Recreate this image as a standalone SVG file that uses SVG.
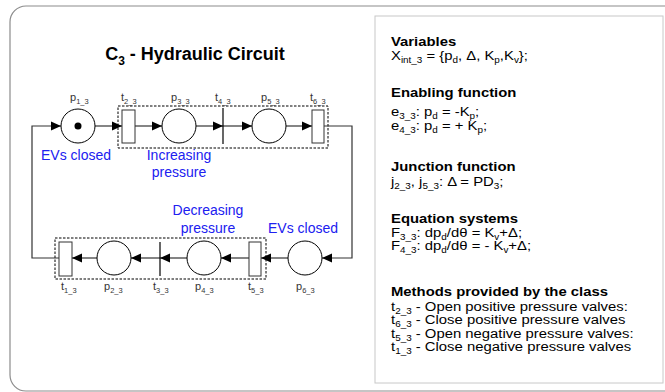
<svg xmlns="http://www.w3.org/2000/svg" width="665" height="392" viewBox="0 0 665 392">
<defs>
<marker id="ah" markerWidth="10" markerHeight="10" refX="10" refY="5" orient="auto" markerUnits="userSpaceOnUse"><path d="M0,0.5 L10,5 L0,9.5 Z" fill="#000"/></marker>
<style>
text{font-family:"Liberation Sans",Arial,Helvetica,sans-serif;fill:#000}
.lbl{font-size:11px;fill:#333}
.ls{font-size:7.5px}
.blue{font-size:14px;fill:#2020f0}
.rb{font-size:13.5px}
.rs{font-size:9px}
.h{font-weight:bold}
.place{fill:#fff;stroke:#000;stroke-width:1}
.trans{fill:#fff;stroke:#333;stroke-width:1}
.bar{stroke:#000;stroke-width:1.2}
.arc{fill:none;stroke:#333;stroke-width:1.2;marker-end:url(#ah)}
.dash{fill:none;stroke:#000;stroke-width:1;stroke-dasharray:2.5 1.5}
</style>
</defs>
<rect x="0" y="0" width="665" height="392" fill="#fff"/>
<rect x="10" y="6" width="690" height="385" rx="16" fill="#fff" stroke="#8c8c8c" stroke-width="1.2"/>
<rect x="375" y="16" width="288" height="367" fill="#fff" stroke="#c8c8c8" stroke-width="1"/>

<text x="195" y="60" text-anchor="middle" class="h" font-size="18">C<tspan font-size="12" dy="5">3</tspan><tspan dy="-5"> - Hydraulic Circuit</tspan></text>

<g id="boxes">
<rect class="dash" x="118" y="106" width="210" height="42"/>
<rect class="dash" x="55" y="238" width="211" height="41"/>
</g>

<g id="connectors">
<path class="arc" d="M59,258 H32 V126 H61"/>
<path class="arc" d="M95,126 H122"/>
<path class="arc" d="M135,126 H162"/>
<path class="arc" d="M196,126 H223"/>
<path class="arc" d="M223,126 H252"/>
<path class="arc" d="M286,126 H312"/>
<path class="arc" d="M324,126 H352 V258 H322"/>
<path class="arc" d="M288,258 H261"/>
<path class="arc" d="M249,258 H221"/>
<path class="arc" d="M187,258 H160"/>
<path class="arc" d="M160,258 H131"/>
<path class="arc" d="M97,258 H72"/>
</g>

<g id="p1_3"><circle class="place" cx="78" cy="126" r="17"/><circle cx="78" cy="126" r="3.5" fill="#000"/><text class="lbl" x="70" y="101">p<tspan class="ls" dy="3">1_3</tspan></text></g>
<g id="t2_3"><rect class="trans" x="122" y="110" width="13" height="33"/><text class="lbl" x="121" y="101">t<tspan class="ls" dy="3">2_3</tspan></text></g>
<g id="p3_3"><circle class="place" cx="179" cy="126" r="17"/><text class="lbl" x="171" y="101">p<tspan class="ls" dy="3">3_3</tspan></text></g>
<g id="t4_3"><line class="bar" x1="223" y1="108" x2="223" y2="144"/><text class="lbl" x="215" y="101">t<tspan class="ls" dy="3">4_3</tspan></text></g>
<g id="p5_3"><circle class="place" cx="269" cy="126" r="17"/><text class="lbl" x="261" y="101">p<tspan class="ls" dy="3">5_3</tspan></text></g>
<g id="t6_3"><rect class="trans" x="312" y="110" width="12" height="33"/><text class="lbl" x="310" y="101">t<tspan class="ls" dy="3">6_3</tspan></text></g>

<g id="t1_3"><rect class="trans" x="59" y="242" width="13" height="34"/><text class="lbl" x="61" y="290">t<tspan class="ls" dy="3">1_3</tspan></text></g>
<g id="p2_3"><circle class="place" cx="114" cy="258" r="17"/><text class="lbl" x="104" y="290">p<tspan class="ls" dy="3">2_3</tspan></text></g>
<g id="t3_3"><line class="bar" x1="160" y1="242" x2="160" y2="276"/><text class="lbl" x="153" y="290">t<tspan class="ls" dy="3">3_3</tspan></text></g>
<g id="p4_3"><circle class="place" cx="204" cy="258" r="17"/><text class="lbl" x="195" y="290">p<tspan class="ls" dy="3">4_3</tspan></text></g>
<g id="t5_3"><rect class="trans" x="249" y="242" width="12" height="34"/><text class="lbl" x="248" y="290">t<tspan class="ls" dy="3">5_3</tspan></text></g>
<g id="p6_3"><circle class="place" cx="305" cy="258" r="17"/><text class="lbl" x="296" y="290">p<tspan class="ls" dy="3">6_3</tspan></text></g>

<g id="labels">
<text class="blue" x="41" y="160">EVs closed</text>
<text class="blue" x="179" y="160" text-anchor="middle">Increasing</text>
<text class="blue" x="179" y="177" text-anchor="middle">pressure</text>
<text class="blue" x="208" y="215" text-anchor="middle">Decreasing</text>
<text class="blue" x="208" y="233" text-anchor="middle">pressure</text>
<text class="blue" x="268" y="233">EVs closed</text>
</g>

<g id="class-info" transform="translate(391 0) scale(1.1 1)">
<text class="rb h" x="0" y="46">Variables</text>
<text class="rb" x="0" y="60">X<tspan class="rs" dy="3">int_3</tspan><tspan dy="-3"> = {p</tspan><tspan class="rs" dy="3">d</tspan><tspan dy="-3">, Δ, K</tspan><tspan class="rs" dy="3">p</tspan><tspan dy="-3">,K</tspan><tspan class="rs" dy="3">v</tspan><tspan dy="-3">};</tspan></text>
<text class="rb h" x="0" y="97">Enabling function</text>
<text class="rb" x="0" y="116">e<tspan class="rs" dy="3">3_3</tspan><tspan dy="-3">: p</tspan><tspan class="rs" dy="3">d</tspan><tspan dy="-3"> = -K</tspan><tspan class="rs" dy="3">p</tspan><tspan dy="-3">;</tspan></text>
<text class="rb" x="0" y="130">e<tspan class="rs" dy="3">4_3</tspan><tspan dy="-3">: p</tspan><tspan class="rs" dy="3">d</tspan><tspan dy="-3"> = + K</tspan><tspan class="rs" dy="3">p</tspan><tspan dy="-3">;</tspan></text>
<text class="rb h" x="0" y="171">Junction function</text>
<text class="rb" x="0" y="186">j<tspan class="rs" dy="3">2_3</tspan><tspan dy="-3">, j</tspan><tspan class="rs" dy="3">5_3</tspan><tspan dy="-3">: Δ = PD</tspan><tspan class="rs" dy="3">3</tspan><tspan dy="-3">;</tspan></text>
<text class="rb h" x="0" y="223">Equation systems</text>
<text class="rb" x="0" y="237">F<tspan class="rs" dy="3">3_3</tspan><tspan dy="-3">: dp</tspan><tspan class="rs" dy="3">d</tspan><tspan dy="-3">/dθ = K</tspan><tspan class="rs" dy="3">v</tspan><tspan dy="-3">+Δ;</tspan></text>
<text class="rb" x="0" y="250">F<tspan class="rs" dy="3">4_3</tspan><tspan dy="-3">: dp</tspan><tspan class="rs" dy="3">d</tspan><tspan dy="-3">/dθ = - K</tspan><tspan class="rs" dy="3">v</tspan><tspan dy="-3">+Δ;</tspan></text>
<text class="rb h" x="0" y="296">Methods provided by the class</text>
<text class="rb" x="0" y="311">t<tspan class="rs" dy="3">2_3</tspan><tspan dy="-3"> - Open positive pressure valves:</tspan></text>
<text class="rb" x="0" y="324.5">t<tspan class="rs" dy="3">6_3</tspan><tspan dy="-3"> - Close positive pressure valves</tspan></text>
<text class="rb" x="0" y="338">t<tspan class="rs" dy="3">5_3</tspan><tspan dy="-3"> - Open negative pressure valves:</tspan></text>
<text class="rb" x="0" y="351.5">t<tspan class="rs" dy="3">1_3</tspan><tspan dy="-3"> - Close negative pressure valves</tspan></text>
</g>
</svg>
